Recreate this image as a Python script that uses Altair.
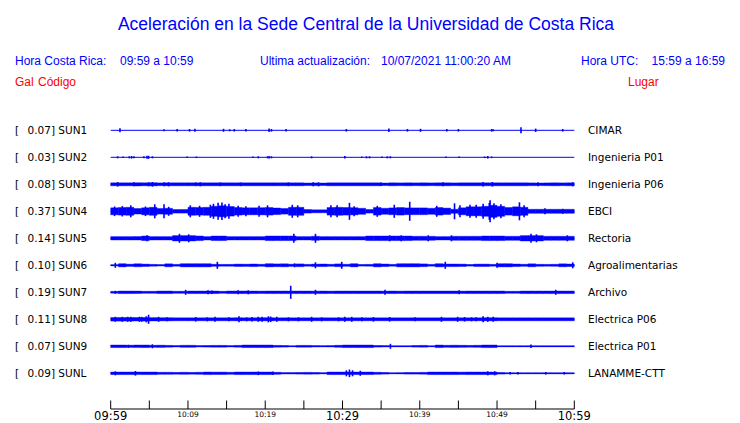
import altair as alt
import pandas as pd

# ---------------- data ----------------
STATIONS = ["SUN1", "SUN2", "SUN3", "SUN4", "SUN5", "SUN6", "SUN7", "SUN8", "SUN9", "SUNL"]
PEAK_GAL = ["0.07", "0.03", "0.08", "0.37", "0.14", "0.10", "0.19", "0.11", "0.07", "0.09"]
PLACES = ["CIMAR", "Ingenieria P01", "Ingenieria P06", "EBCI", "Rectoria",
          "Agroalimentarias", "Archivo", "Electrica P06", "Electrica P01", "LANAMME-CTT"]

TICK_MINUTES = [0, 5, 10, 15, 20, 25, 30, 35, 40, 45, 50, 55, 60]
LABEL_MINUTES = [0, 10, 20, 30, 40, 50, 60]
TICK_LABELS = ["09:59", "10:09", "10:19", "10:29", "10:39", "10:49", "10:59"]

# per-minute envelope (half deflection of the trace, screen-pixel units)
SUN3_ENV = [1.5, 1.5, 1.5, 1.6, 1.5, 1.6, 1.4, 1.5, 1.5, 1.5, 1.5, 1.5, 1.5, 1.5, 1.5, 1.5, 1.5, 1.5, 1.5, 1.5,
            1.5, 1.5, 1.5, 1.5, 1.5, 1.3, 1.4, 1.3, 1.5, 1.5, 1.5, 1.5, 1.5, 1.5, 1.5, 1.3, 1.5, 1.4, 1.5, 1.4,
            1.5, 1.4, 1.5, 1.5, 1.4, 1.5, 1.5, 1.5, 1.5, 1.5, 1.5, 1.5, 1.5, 1.5, 1.4, 1.3, 1.4, 1.5, 1.4, 1.5]
SUN4_ENV = [3.5, 3.8, 4.0, 2.8, 3.5, 4.0, 2.8, 3.0, 1.8, 1.8, 4.0, 3.8, 4.0, 5.0, 5.5, 4.8, 3.8, 3.5, 3.5, 3.6,
            3.8, 3.3, 2.8, 4.0, 4.0, 1.8, 1.5, 1.5, 3.8, 4.0, 3.8, 3.6, 3.0, 1.8, 3.8, 3.0, 3.4, 3.8, 3.4, 3.4,
            3.4, 3.0, 3.8, 3.2, 2.0, 3.5, 4.5, 4.5, 5.0, 6.0, 5.0, 3.8, 4.5, 4.0, 2.0, 2.0, 2.0, 2.0, 2.0, 2.0]
SUN5_ENV = [1.7, 1.7, 1.7, 1.7, 2.3, 1.7, 1.7, 1.7, 2.7, 2.7, 2.7, 2.3, 1.7, 2.3, 2.3, 1.7, 1.7, 1.7, 1.7, 1.7,
            2.3, 2.3, 2.3, 2.3, 1.7, 1.7, 2.0, 1.7, 1.7, 1.7, 1.7, 1.7, 1.7, 2.3, 2.3, 2.3, 2.3, 2.3, 2.3, 2.0,
            2.0, 2.0, 1.7, 1.7, 2.0, 2.0, 2.0, 2.0, 2.3, 2.3, 2.3, 2.0, 2.0, 2.7, 2.7, 2.7, 2.0, 2.0, 2.0, 2.0]
SUN6_ENV = [0.6, 1.6, 1.1, 1.5, 1.2, 0.9, 0.7, 1.5, 0.9, 1.6, 1.6, 1.6, 1.6, 1.0, 0.9, 0.9, 1.2, 1.1, 1.3, 1.0,
            1.6, 1.4, 1.5, 1.1, 1.4, 0.9, 1.2, 1.3, 1.0, 1.4, 1.0, 1.6, 0.8, 0.9, 1.6, 1.3, 0.9, 1.6, 1.6, 1.6,
            1.4, 0.9, 1.6, 1.3, 1.3, 1.2, 0.8, 1.2, 1.2, 0.9, 1.6, 1.6, 1.3, 1.0, 1.5, 1.0, 0.9, 1.0, 1.5, 1.3]
SUN7_ENV = [0.9, 1.3, 1.3, 1.2, 1.0, 1.0, 1.3, 1.3, 1.0, 1.0, 1.3, 1.3, 1.3, 1.3, 1.0, 1.3, 1.3, 1.3, 1.3, 1.2,
            1.3, 1.3, 1.3, 1.3, 1.3, 1.3, 1.2, 1.3, 1.2, 1.3, 1.3, 1.3, 1.3, 1.3, 1.3, 1.2, 1.3, 1.2, 1.3, 1.3,
            1.3, 1.3, 1.3, 1.3, 1.3, 1.2, 1.3, 1.3, 1.3, 1.3, 1.3, 1.0, 1.0, 1.3, 1.3, 1.3, 1.3, 1.3, 1.3, 1.3]
SUN8_ENV = [1.8, 1.8, 1.8, 1.7, 1.8, 1.7, 1.6, 1.6, 1.5, 1.5, 1.5, 1.5, 1.5, 1.5, 1.5, 1.5, 1.6, 1.5, 1.5, 1.6,
            1.6, 1.5, 1.5, 1.5, 1.5, 1.5, 1.5, 1.5, 1.5, 1.5, 1.5, 1.5, 1.5, 1.5, 1.5, 1.5, 1.5, 1.5, 1.5, 1.5,
            1.5, 1.5, 1.5, 1.5, 1.5, 1.5, 1.5, 1.5, 1.6, 1.6, 1.5, 1.5, 1.5, 1.5, 1.5, 1.5, 1.5, 1.5, 1.5, 1.5]
SUN9_ENV = [1.3, 1.3, 1.1, 1.3, 1.3, 1.0, 1.1, 0.9, 0.7, 1.0, 1.0, 0.7, 0.8, 0.9, 0.9, 0.7, 0.9, 1.3, 1.3, 1.3,
            1.3, 0.9, 0.8, 0.5, 0.9, 0.9, 0.7, 0.6, 0.7, 1.0, 1.3, 1.3, 1.3, 1.3, 0.8, 0.7, 0.5, 0.5, 0.5, 0.8,
            0.9, 0.5, 1.3, 1.0, 1.1, 1.0, 0.9, 1.0, 1.3, 1.3, 0.5, 0.5, 0.5, 0.5, 0.5, 0.5, 0.5, 0.5, 0.5, 0.5]
SUNL_ENV = [1.3, 1.3, 1.3, 1.3, 1.3, 1.3, 1.0, 1.0, 0.9, 1.0, 0.9, 1.0, 1.3, 1.2, 1.2, 1.0, 1.3, 1.3, 1.3, 1.3,
            1.3, 1.0, 0.7, 0.7, 0.8, 0.9, 0.8, 0.6, 1.3, 1.3, 1.3, 1.3, 1.3, 1.3, 1.0, 0.8, 0.5, 0.6, 0.8, 0.8,
            0.9, 1.3, 1.3, 1.3, 1.3, 1.2, 1.3, 1.3, 1.3, 1.3, 0.8, 0.5, 0.5, 0.5, 0.5, 0.5, 0.5, 0.5, 0.5, 0.5]
ENVELOPES = {"SUN3": SUN3_ENV, "SUN4": SUN4_ENV, "SUN5": SUN5_ENV, "SUN6": SUN6_ENV, "SUN7": SUN7_ENV,
             "SUN8": SUN8_ENV, "SUN9": SUN9_ENV, "SUNL": SUNL_ENV}

# isolated peaks: (minute, half deflection)
SUN1_PEAKS = [(1.2, 2.0), (6.9, 1.0), (8.6, 1.3), (10.2, 1.3), (10.9, 1.5), (14.6, 1.5), (15.4, 1.0),
              (16.0, 1.3), (17.5, 1.3), (20.5, 1.7), (20.8, 1.3), (22.7, 1.3), (30.5, 1.3), (36.0, 1.7),
              (38.4, 1.3), (40.1, 1.5), (43.5, 1.3), (45.0, 1.3), (49.3, 1.3), (49.5, 1.0), (53.1, 3.0),
              (55.0, 1.7), (58.5, 1.3)]
SUN2_PEAKS = [(0.9, 1.0), (1.6, 0.7), (2.4, 1.0), (2.7, 1.3), (3.0, 1.0), (4.3, 1.0), (4.7, 1.5),
              (4.9, 1.5), (5.4, 1.0), (9.9, 0.8), (11.1, 0.8), (18.4, 0.7), (19.1, 1.0), (20.3, 1.0),
              (20.5, 1.3), (20.8, 1.0), (26.0, 1.0), (30.3, 1.3), (32.5, 0.8), (33.1, 1.0), (33.5, 1.0),
              (35.1, 0.7), (35.8, 1.0), (36.2, 1.0), (43.4, 0.8), (45.1, 0.8), (48.4, 0.8), (48.8, 1.3),
              (49.3, 0.8)]
SUN3_PEAKS = [(0.9, 2.3), (3.0, 2.0), (4.9, 2.0), (5.4, 2.3), (6.9, 2.0), (7.5, 2.0), (11.0, 1.8),
              (11.6, 2.0), (14.2, 1.8), (16.8, 1.8), (23.0, 1.8), (26.2, 2.0), (26.9, 2.0), (35.0, 1.8),
              (43.0, 2.0), (48.2, 2.2), (49.4, 2.3), (55.3, 2.0), (59.8, 2.0)]
SUN4_PEAKS = [(0.5, 4.8), (1.5, 5.2), (2.6, 6.0), (4.5, 4.8), (5.7, 7.0), (6.9, 7.0), (7.5, 4.5),
              (10.3, 6.0), (11.5, 5.5), (12.9, 6.5), (13.3, 7.5), (13.9, 8.5), (14.4, 8.7), (14.8, 7.0),
              (15.3, 7.5), (16.5, 5.5), (17.5, 5.0), (19.2, 5.5), (20.3, 6.0), (23.5, 6.5), (24.2, 6.0),
              (28.5, 6.0), (29.3, 6.0), (30.9, 8.5), (31.5, 5.0), (34.5, 5.5), (36.7, 6.5), (38.7, 9.5),
              (42.2, 5.5), (44.5, 8.0), (45.2, 6.0), (46.5, 6.5), (47.3, 6.5), (48.2, 7.5), (49.0, 8.5),
              (49.1, 11.0), (49.6, 8.0), (50.5, 7.0), (52.9, 9.0), (53.5, 6.0), (56.2, 3.0), (58.5, 2.5)]
SUN5_PEAKS = [(4.7, 3.0), (8.9, 4.5), (10.1, 4.0), (23.7, 4.5), (26.5, 4.5), (36.1, 3.0), (37.6, 3.0),
              (41.1, 3.0), (44.1, 3.0), (54.4, 4.5), (55.1, 4.0), (59.1, 3.0)]
SUN6_PEAKS = [(0.6, 2.5), (13.8, 3.5), (23.8, 2.0), (26.5, 3.0), (29.9, 3.5), (43.3, 3.5), (50.0, 2.5),
              (59.8, 3.0)]
SUN7_PEAKS = [(0.6, 1.5), (9.7, 2.5), (12.6, 2.0), (13.1, 1.8), (16.5, 2.0), (17.8, 2.0), (23.3, 6.5),
              (26.5, 2.5), (35.5, 2.5), (45.1, 2.0), (57.6, 2.5)]
SUN8_PEAKS = [(0.6, 2.5), (1.5, 2.5), (2.2, 2.5), (2.6, 2.5), (3.7, 2.5), (4.0, 2.5), (4.6, 3.0),
              (4.9, 4.5), (6.2, 2.5), (7.3, 2.0), (11.0, 2.3), (12.5, 2.0), (13.5, 2.5), (15.3, 2.0),
              (16.6, 3.0), (17.6, 2.0), (18.3, 2.3), (19.1, 2.5), (19.6, 2.5), (20.4, 3.0), (20.7, 2.8),
              (21.5, 2.5), (23.0, 2.0), (24.3, 2.0), (26.0, 2.5), (27.3, 2.0), (29.5, 2.0), (30.3, 2.5),
              (31.2, 2.5), (32.5, 2.0), (34.0, 2.3), (36.1, 2.3), (39.4, 2.0), (42.8, 2.5), (44.9, 2.5),
              (45.8, 2.3), (46.7, 2.0), (47.3, 2.0), (48.2, 3.0), (48.8, 2.5), (49.5, 2.5)]
SUN9_PEAKS = [(2.3, 1.5), (5.4, 2.0), (36.2, 2.5), (54.4, 1.7)]
SUNL_PEAKS = [(0.6, 2.0), (3.2, 2.3), (19.1, 1.8), (21.0, 1.8), (30.5, 3.0), (30.9, 3.8), (31.3, 3.0),
              (32.3, 2.5), (48.8, 2.0), (49.7, 2.0), (51.7, 1.3), (52.7, 1.3), (56.3, 1.3), (58.7, 1.3)]
PEAKS = {"SUN1": SUN1_PEAKS, "SUN2": SUN2_PEAKS, "SUN3": SUN3_PEAKS, "SUN4": SUN4_PEAKS,
         "SUN5": SUN5_PEAKS, "SUN6": SUN6_PEAKS, "SUN7": SUN7_PEAKS, "SUN8": SUN8_PEAKS,
         "SUN9": SUN9_PEAKS, "SUNL": SUNL_PEAKS}

# ---------------- layout / style ----------------
BLUE = "#0000FF"
RED = "#FF0000"
ROW_PX = 27.0          # pixel spacing between traces
W, H = 724, 415
XS = alt.Scale(domain=[TICK_MINUTES[0], TICK_MINUTES[-1]], range=[102.7, 566.3], nice=False, zero=False)
YS = alt.Scale(domain=[0, len(STATIONS) - 1], range=[122.3, 365.3], nice=False, zero=False)

band_rows, peak_rows, base_rows, lab_rows = [], [], [], []
for i, s in enumerate(STATIONS):
    base_rows.append({"row": i, "t0": TICK_MINUTES[0], "t1": TICK_MINUTES[-1]})
    lab_rows.append({"row": i, "left": f"{PEAK_GAL[i]}] {s}", "right": PLACES[i]})
    env = ENVELOPES.get(s)
    if env:
        for m, a in enumerate(env):
            band_rows.append({"row": i, "t0": m, "t1": m + 1,
                              "lo": i - a / ROW_PX, "hi": i + a / ROW_PX})
    for t, a in PEAKS[s]:
        peak_rows.append({"t": t, "lo": i - a / ROW_PX, "hi": i + a / ROW_PX})

band_df = pd.DataFrame(band_rows)
peak_df = pd.DataFrame(peak_rows)
base_df = pd.DataFrame(base_rows)
lab_df = pd.DataFrame(lab_rows)
tick_df = pd.DataFrame({"m": TICK_MINUTES})
tlab_df = pd.DataFrame({"m": LABEL_MINUTES, "lab": TICK_LABELS,
                        "major": [k % 3 == 0 for k in range(len(TICK_LABELS))]})

baseline = alt.Chart(base_df).mark_rule(color=BLUE, strokeWidth=1).encode(
    x=alt.X("t0:Q", scale=XS, axis=None), x2="t1:Q",
    y=alt.Y("row:Q", scale=YS, axis=None))

bands = alt.Chart(band_df).mark_rect(color=BLUE, stroke=BLUE, strokeWidth=0.4).encode(
    x=alt.X("t0:Q", scale=XS, axis=None), x2="t1:Q",
    y=alt.Y("lo:Q", scale=YS, axis=None), y2="hi:Q")

peaks = alt.Chart(peak_df).mark_rule(color=BLUE, strokeWidth=1.6).encode(
    x=alt.X("t:Q", scale=XS, axis=None),
    y=alt.Y("lo:Q", scale=YS, axis=None), y2="hi:Q")

lab_font = "DejaVu Sans"
left_br = alt.Chart(lab_df).mark_text(text="[", align="left", baseline="middle", font=lab_font,
                                      fontSize=10.5, color="black", dy=0.5).encode(
    x=alt.value(7), y=alt.Y("row:Q", scale=YS, axis=None))
left_lab = alt.Chart(lab_df).mark_text(align="left", baseline="middle", font=lab_font,
                                       fontSize=10.5, color="black", dy=0.5).encode(
    x=alt.value(19.5), y=alt.Y("row:Q", scale=YS, axis=None), text="left:N")
right_lab = alt.Chart(lab_df).mark_text(align="left", baseline="middle", font=lab_font,
                                        fontSize=10.5, color="black", dy=0.5).encode(
    x=alt.value(580), y=alt.Y("row:Q", scale=YS, axis=None), text="right:N")

# time axis drawn from the tick arrays
axis_line = alt.Chart(base_df.head(1)).mark_rule(color="black", strokeWidth=1).encode(
    x=alt.X("t0:Q", scale=XS, axis=None), x2="t1:Q", y=alt.value(401))
ticks = alt.Chart(tick_df).mark_rule(color="black", strokeWidth=1).encode(
    x=alt.X("m:Q", scale=XS, axis=None), y=alt.value(392.5), y2=alt.value(401))
tlab_major = alt.Chart(tlab_df).transform_filter("datum.major").mark_text(
    align="center", baseline="alphabetic", font="DejaVu Sans", fontSize=11.5, color="black").encode(
    x=alt.X("m:Q", scale=XS, axis=None), y=alt.value(411.5), text="lab:N")
tlab_minor = alt.Chart(tlab_df).transform_filter("!datum.major").mark_text(
    align="center", baseline="alphabetic", font="DejaVu Sans", fontSize=7.5, color="black").encode(
    x=alt.X("m:Q", scale=XS, axis=None), y=alt.value(409), text="lab:N")

# header texts
HEAD_FONT = "Liberation Sans"
def txt(s, x, y, size, color, align="left"):
    return alt.Chart(pd.DataFrame({"s": [s]})).mark_text(
        align=align, baseline="alphabetic", font=HEAD_FONT, fontSize=size, color=color).encode(
        x=alt.value(x), y=alt.value(y), text="s:N")

headers = [
    txt("Aceleración en la Sede Central de la Universidad de Costa Rica", 358, 22, 17.5, BLUE, "center"),
    txt("Hora Costa Rica:", 7, 57, 12, BLUE),
    txt("09:59 a 10:59", 112, 57, 12, BLUE),
    txt("Ultima actualización:", 252, 57, 12, BLUE),
    txt("10/07/2021 11:00:20 AM", 373, 57, 12, BLUE),
    txt("Hora UTC:", 573, 57, 12, BLUE),
    txt("15:59 a 16:59", 717, 57, 12, BLUE, "right"),
    txt("Gal", 7, 78, 12, RED),
    txt("Código", 30, 78, 12, RED),
    txt("Lugar", 620, 78, 12, RED),
]

chart = alt.layer(
    baseline, bands, peaks, left_br, left_lab, right_lab,
    axis_line, ticks, tlab_major, tlab_minor, *headers
).properties(
    width=W, height=H, padding=0, autosize=alt.AutoSizeParams(type="none")
).configure_view(stroke=None)

chart.save("out.html", embed_options={"renderer": "svg", "actions": False})
